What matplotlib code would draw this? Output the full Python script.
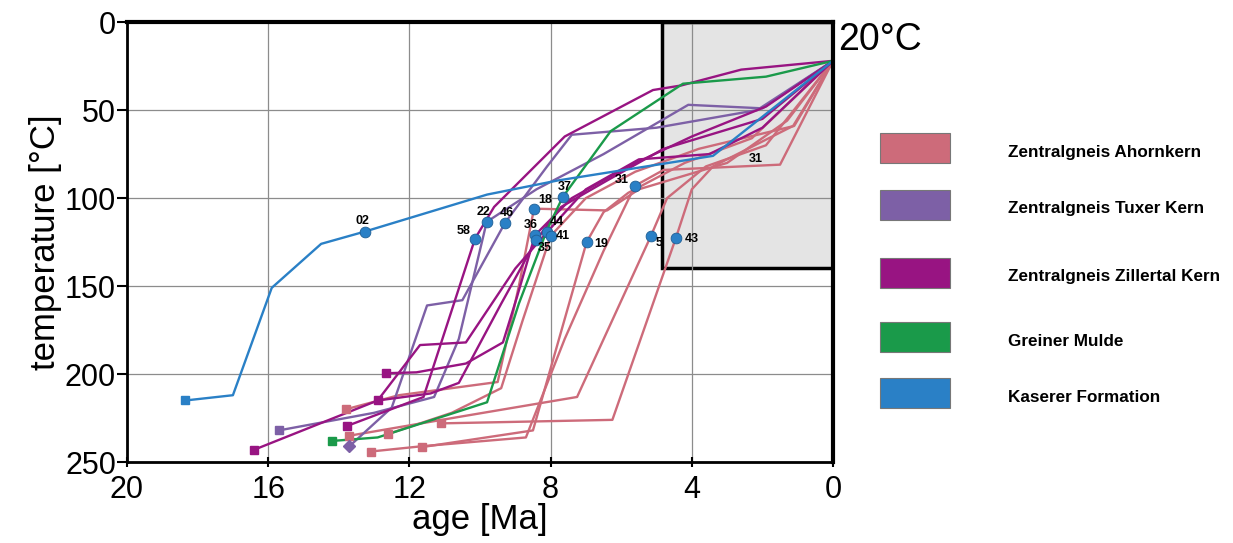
import matplotlib.pyplot as plt
from matplotlib.patches import Rectangle

plt.rcParams['font.family'] = ['Liberation Sans', 'DejaVu Sans']

# cooling paths: age [Ma] and temperature [°C], one list per path
ahorn_age = [
    [13.8, 12.3, 9.5, 8.9, 8.47, 6.4, 5.5, 3.0, 1.3, 0],
    [11.65, 8.5, 6.98, 6.5, 5.8, 4.2, 2.3, 0],
    [13.7, 10.5, 7.25, 5.16, 4.7, 3.6, 1.9, 0],
    [11.1, 6.25, 4.45, 4.0, 3.4, 1.13, 0],
    [13.1, 11.65, 8.7, 7.6, 6.5, 5.61, 4.8, 1.5, 0],
    [12.6, 10.8, 9.4, 8.8, 8.0, 7.0, 5.6, 3.8, 1.1, 0],
]
ahorn_temp = [
    [220, 212, 204.5, 150, 106, 107, 95, 80, 56, 22],
    [241.5, 232, 125, 108, 97, 80, 66, 22],
    [235, 224, 213, 121.6, 100, 82, 70, 22],
    [228, 226, 122.6, 95, 82, 59, 22],
    [244, 241, 236, 180, 130, 93, 84, 81, 22],
    [234, 222, 208, 170, 121.5, 100, 85, 72, 59, 22],
]

tuxer_age = [
    [13.7, 12.5, 11.5, 10.5, 9.29, 8.1, 7.4, 5.0, 2.15, 0],
    [15.7, 13.0, 11.3, 10.6, 9.81, 8.4, 6.5, 4.1, 2.0, 0],
]
tuxer_temp = [
    [241, 219, 161, 158, 114, 82, 64, 60, 50, 22],
    [232, 222, 213, 180, 113.5, 95, 75, 47, 49, 22],
]
tuxer_marker = ['D', 's']

ziller_age = [
    [13.77, 11.6, 10.14, 9.6, 7.6, 5.1, 4.3, 2.6, 0],
    [16.4, 12.9, 11.4, 10.6, 9.4, 8.41, 7.7, 6.4, 4.8, 2.0, 0],
    [12.65, 11.8, 10.4, 9.35, 8.95, 8.44, 7.4, 5.8, 4.0, 1.9, 0],
    [12.9, 11.7, 10.4, 9.0, 8.1, 7.0, 5.5, 3.5, 2.0, 0],
]
ziller_temp = [
    [229.5, 213, 123, 105, 65, 38.6, 36, 27, 22],
    [243, 215, 211, 205, 160, 124, 105, 90, 72, 55, 22],
    [199.5, 199, 194, 182, 156, 121, 100, 82, 65, 48, 22],
    [215, 183.5, 182, 140, 119.3, 95, 78, 75, 60, 22],
]

greiner_age = [14.2, 12.9, 9.8, 8.9, 8.1, 7.66, 6.3, 4.25, 1.9, 0]
greiner_temp = [238, 236, 216, 160, 118, 99.5, 62, 35, 31, 22]

kaserer_age = [18.35, 17.0, 15.9, 14.5, 13.26, 9.8, 7.8, 3.4, 0]
kaserer_temp = [215, 212, 151, 126, 119, 98, 90, 76, 22]

# sample points
dot_age = [13.26, 10.14, 9.81, 9.29, 8.47, 7.66, 8.44, 8.41, 8.1, 8.0, 6.98, 5.61, 5.16, 4.45]
dot_temp = [119, 123, 113.5, 114, 106, 99.5, 121, 124, 119.3, 121.5, 125, 93, 121.6, 122.6]
dot_label = ['02', '58', '22', '46', '18', '37', '36', '35', '44', '41', '19', '31', '5', '43']
label_dx = [-2, -11, -3, 2, 11, 2, -4, 9, 10, 12, 15, -13, 8, 16]
label_dy = [11, 8, 10, 10, 9, 10, 10, -8, 10, 0, -2, 6, -7, -1]

legend_names = ['Zentralgneis Ahornkern', 'Zentralgneis Tuxer Kern', 'Zentralgneis Zillertal Kern',
                'Greiner Mulde', 'Kaserer Formation']
legend_colors = ['#cd6b7a', '#7d60a6', '#981482', '#1a9a4a', '#2a80c6']

c_ahorn, c_tuxer, c_ziller, c_greiner, c_kaserer = legend_colors

fig = plt.figure(figsize=(12.33, 5.43), dpi=100)
ax = fig.add_axes([0.103, 0.149, 0.5726, 0.8103])

ax.add_patch(Rectangle((0, 0), 4.85, 140, facecolor='#e4e4e4', edgecolor='black', lw=2.5, zorder=0))

lw = 1.7
for a, t in zip(ahorn_age, ahorn_temp):
    ax.plot(a, t, color=c_ahorn, lw=lw, zorder=2)
    ax.plot(a[0], t[0], marker='s', ms=6, color=c_ahorn, zorder=3)
for a, t, m in zip(tuxer_age, tuxer_temp, tuxer_marker):
    ax.plot(a, t, color=c_tuxer, lw=lw, zorder=2)
    ax.plot(a[0], t[0], marker=m, ms=6, color=c_tuxer, zorder=3)
for a, t in zip(ziller_age, ziller_temp):
    ax.plot(a, t, color=c_ziller, lw=lw, zorder=2)
    ax.plot(a[0], t[0], marker='s', ms=6, color=c_ziller, zorder=3)
ax.plot(greiner_age, greiner_temp, color=c_greiner, lw=lw, zorder=2)
ax.plot(greiner_age[0], greiner_temp[0], marker='s', ms=6, color=c_greiner, zorder=3)
ax.plot(kaserer_age, kaserer_temp, color=c_kaserer, lw=lw, zorder=2)
ax.plot(kaserer_age[0], kaserer_temp[0], marker='s', ms=6, color=c_kaserer, zorder=3)

ax.scatter(dot_age, dot_temp, s=60, color='#2a80c6', edgecolors='#1f5f95', linewidths=0.6, zorder=4)
for x, y, s, dx, dy in zip(dot_age, dot_temp, dot_label, label_dx, label_dy):
    ax.annotate(s, (x, y), xytext=(dx, dy), textcoords='offset pixels', ha='center', va='center',
                fontsize=9, fontweight='bold', zorder=5)
ax.text(2.2, 78, '31', fontsize=9, fontweight='bold', ha='center', va='center', zorder=5)

ax.text(-0.15, 10, '20°C', fontsize=27, ha='left', va='center', clip_on=False)

ax.set_xlim(20, 0)
ax.set_ylim(250, 0)
ax.set_xticks([20, 16, 12, 8, 4, 0])
ax.set_yticks([0, 50, 100, 150, 200, 250])
ax.grid(True, color='#8c8c8c', lw=0.9)
for side in ['top', 'right']:
    ax.spines[side].set_linewidth(3)
for side in ['left', 'bottom']:
    ax.spines[side].set_linewidth(2)
ax.tick_params(axis='y', labelsize=22, length=7, width=1.5, direction='out', pad=1)
ax.tick_params(axis='x', labelsize=22, length=7, width=1.5, direction='inout', pad=6)
ax.set_xlabel('age [Ma]', fontsize=25, labelpad=-2)
ax.set_ylabel('temperature [°C]', fontsize=25, labelpad=2)

legend_y = [148, 205, 273, 337, 393]
for name, col, yc in zip(legend_names, legend_colors, legend_y):
    fig.add_artist(Rectangle((880 / 1233, 1 - (yc + 15) / 543), 70 / 1233, 30 / 543,
                             facecolor=col, edgecolor='#777777', lw=0.8, transform=fig.transFigure))
    fig.text(1008 / 1233, 1 - (yc + 4) / 543, name, fontsize=12.3, fontweight='bold', va='center', ha='left')

fig.savefig('out.png', dpi=100)
